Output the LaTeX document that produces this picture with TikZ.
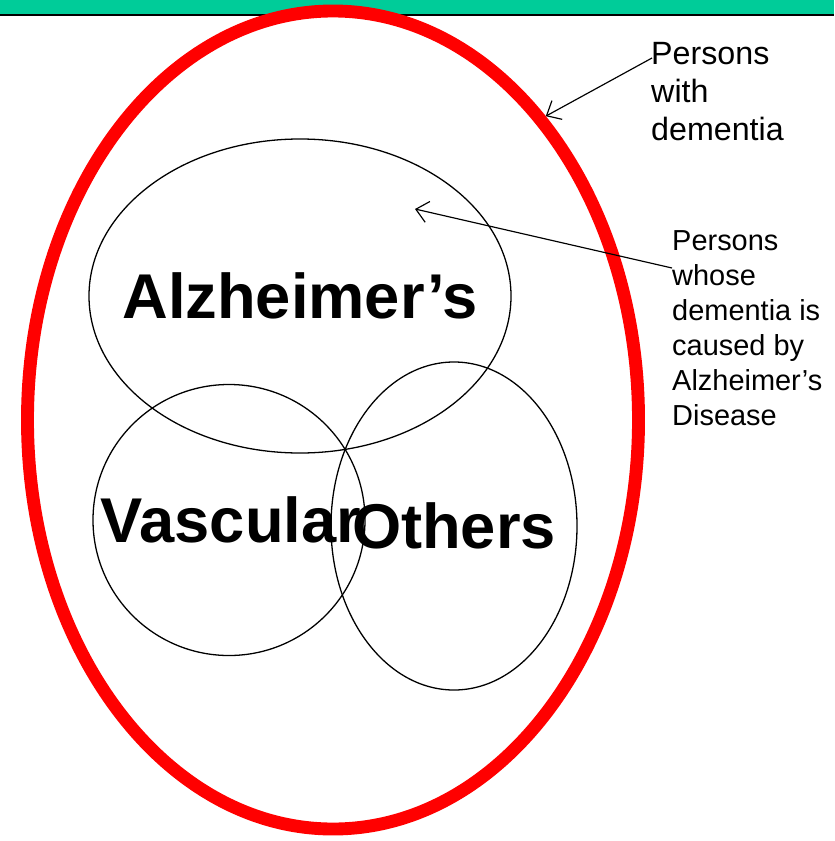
\documentclass[tikz,border=0pt]{standalone}
\usepackage{fontspec}
\setmainfont{Liberation Sans}
\usetikzlibrary{arrows.meta,positioning,shapes.geometric}
\definecolor{bannerteal}{HTML}{00CC99}
\definecolor{ringred}{HTML}{FF0000}

\begin{document}
\begin{tikzpicture}[x=0.03cm,y=-0.03cm]
    \tikzstyle{set}=[ellipse,draw=black,line width=1.1pt,inner sep=0pt]
    \tikzstyle{setname}=[font=\fontsize{54}{60}\selectfont\bfseries]
    \tikzstyle{note}=[anchor=north west,align=left,inner sep=0pt]
    \tikzstyle{pointer}=[-{Straight Barb[length=3.6mm,width=6.4mm]},line width=1pt]
    \useasboundingbox (0,0) rectangle (834,841);
    % slide banner
    \fill[bannerteal] (0,0) rectangle (834,14);
    \draw[line width=2pt] (0,15) -- (834,15);
    % sets
    \node[set,minimum width=12.66cm,minimum height=9.42cm] (alz) at (300,296) {};
    \node[set,minimum width=8.16cm,minimum height=8.13cm] (vasc) at (229,520) {};
    \node[set,minimum width=7.38cm,minimum height=9.84cm] (other) at (454,526) {};
    \node[setname] (alzname) at (alz.center) {Alzheimer’s};
    \node[setname] (vascname) at ([xshift=0.06cm]vasc.center) {Vascular};
    \node[setname] (othername) at (other.center) {Others};
    \node[ellipse,draw=ringred,line width=11pt,inner sep=0pt,minimum width=18.33cm,minimum height=24.54cm] (ring) at (333,420) {};
    % labels
    \node[note,font=\fontsize{27.5}{32.4}\selectfont] (withdem) at (651,42) {Persons\\with\\dementia};
    \node[note,font=\fontsize{24.7}{29.9}\selectfont] (causedby) at (672,230) {Persons\\whose\\dementia is\\caused by\\Alzheimer’s\\Disease};
    \coordinate (withdemStart) at (652,58);
    \coordinate (causedStart) at (672,268);
    \coordinate (alzTip) at (415,209);
    \draw[pointer] (withdemStart) -- (ring.55);
    \draw[pointer] (causedStart) -- (alzTip);
\end{tikzpicture}
\end{document}
